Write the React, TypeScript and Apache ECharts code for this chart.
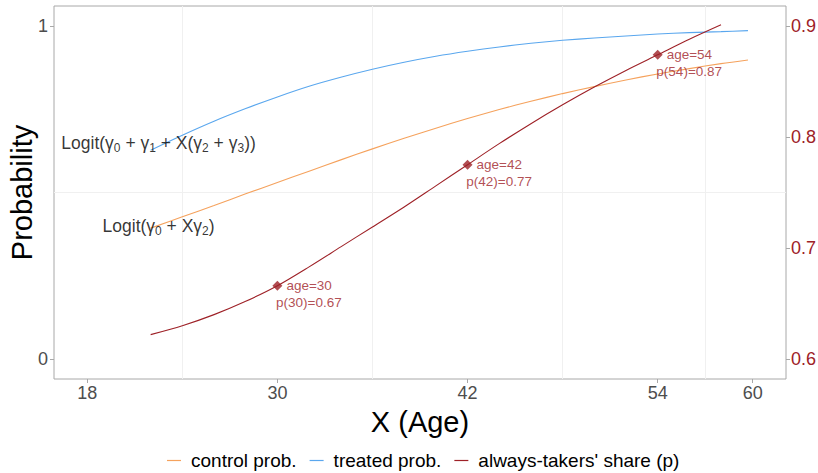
import React, { useEffect, useRef } from "react";
import * as echarts from "echarts";

const probAges = [22, 24, 26, 28, 30, 32, 34, 36, 38, 40, 42, 44, 46, 48, 50, 52, 54, 56, 58, 59.7];
const controlProb = [0.393, 0.427, 0.461, 0.496, 0.53, 0.564, 0.598, 0.631, 0.663, 0.693, 0.722, 0.749, 0.774, 0.797, 0.818, 0.838, 0.856, 0.872, 0.887, 0.898];
const treatedProb = [0.627, 0.672, 0.714, 0.752, 0.787, 0.819, 0.846, 0.87, 0.891, 0.909, 0.924, 0.937, 0.948, 0.957, 0.964, 0.97, 0.976, 0.98, 0.983, 0.986];

const shareAges = [22, 24, 26, 28, 30, 32, 34, 36, 38, 40, 42, 44, 46, 48, 50, 52, 54, 56, 58];
const alwaysTakerShare = [0.622, 0.63, 0.64, 0.652, 0.666, 0.683, 0.701, 0.719, 0.737, 0.756, 0.775, 0.794, 0.812, 0.829, 0.845, 0.86, 0.874, 0.888, 0.901];

const markerAges = [30, 42, 54];
const markerShare = [0.666, 0.775, 0.874];
const markerShareLabels = ["0.67", "0.77", "0.87"];

const xTicks = [18, 30, 42, 54, 60];
const leftTicks = [0, 1];
const rightTicks = [0.6, 0.7, 0.8, 0.9];
const minorGridX = [24, 36, 48, 57];
const minorGridY = [0.5];

const logitLabelAge = 22.5;
const treatedLabelY = 0.649;
const controlLabelY = 0.4;

const FONT = "'Liberation Sans', Arial, Helvetica, sans-serif";
const ORANGE = "#F5A25D";
const BLUE = "#5AA7EE";
const RED = "#9E2127";
const BORDER = "#A8A8A8";

export default function App() {
  const ref = useRef<HTMLDivElement>(null);
  useEffect(() => {
    if (!ref.current) return;
    const chart = echarts.init(ref.current, null, { renderer: "svg" });
    const richLogit = {
      n: { fontSize: 17.5, color: "#000", fontFamily: FONT, lineHeight: 22 },
      g: { fontSize: 17.5, color: "#000", fontFamily: FONT, lineHeight: 22 },
      s: { fontSize: 12, color: "#000", fontFamily: FONT, lineHeight: 14, verticalAlign: "bottom" },
    };
    chart.setOption({
      animation: false,
      textStyle: { fontFamily: FONT },
      grid: {
        left: 54,
        top: 6,
        width: 732,
        height: 373,
        containLabel: false,
        outerBoundsMode: "none",
        show: true,
        borderColor: BORDER,
        borderWidth: 1,
        backgroundColor: "#fff",
      },
      legend: {
        data: ["control prob.", "treated prob.", "always-takers' share (p)"],
        left: 162,
        top: 446,
        icon: "rect",
        itemWidth: 14,
        itemHeight: 1.2,
        itemGap: 13,
        textStyle: { fontSize: 19, color: "#000", fontFamily: FONT, padding: [0, 0, 0, 5] },
      },
      xAxis: {
        type: "value",
        min: 15.9,
        max: 62.1,
        name: "X (Age)",
        nameLocation: "middle",
        nameGap: 28,
        nameMoveOverlap: false,
        nameTextStyle: { fontSize: 29, color: "#000", fontFamily: FONT },
        axisLine: { show: false, onZero: false },
        splitLine: { show: false },
        axisTick: { show: true, customValues: xTicks, length: 4, lineStyle: { color: BORDER } },
        axisLabel: { customValues: xTicks, fontSize: 18, color: "#4D4D4D", margin: 5, fontFamily: FONT },
      },
      yAxis: [
        {
          type: "value",
          min: -0.06,
          max: 1.06,
          name: "Probability",
          nameLocation: "middle",
          nameGap: 18,
          nameMoveOverlap: false,
          nameTextStyle: { fontSize: 29, color: "#000", fontFamily: FONT },
          axisLine: { show: false, onZero: false },
          splitLine: { show: false },
          axisTick: { show: true, customValues: leftTicks, length: 4, lineStyle: { color: BORDER } },
          axisLabel: { customValues: leftTicks, fontSize: 18, color: "#4D4D4D", margin: 6, fontFamily: FONT },
        },
        {
          type: "value",
          position: "right",
          min: 0.582,
          max: 0.918,
          axisLine: { show: false, onZero: false },
          splitLine: { show: false },
          axisTick: { show: true, customValues: rightTicks, length: 4, lineStyle: { color: BORDER } },
          axisLabel: {
            customValues: rightTicks,
            fontSize: 18,
            color: RED,
            margin: 5,
            fontFamily: FONT,
            formatter: (v: number) => v.toFixed(1),
          },
        },
      ],
      series: [
        {
          name: "gridlines",
          type: "line",
          data: [],
          z: 0,
          silent: true,
          markLine: {
            silent: true,
            z: 0,
            symbol: "none",
            label: { show: false },
            lineStyle: { color: "#F0F0F0", width: 1, type: "solid" },
            data: [
              ...minorGridX.map((x) => ({ xAxis: x })),
              ...minorGridY.map((y) => ({ yAxis: y })),
            ],
          },
        },
        {
          name: "control prob.",
          type: "line",
          data: probAges.map((a, i) => [a, controlProb[i]]),
          showSymbol: false,
          smooth: 0.3,
          lineStyle: { color: ORANGE, width: 1.1 },
          itemStyle: { color: ORANGE },
          z: 3,
        },
        {
          name: "treated prob.",
          type: "line",
          data: probAges.map((a, i) => [a, treatedProb[i]]),
          showSymbol: false,
          smooth: 0.3,
          lineStyle: { color: BLUE, width: 1.1 },
          itemStyle: { color: BLUE },
          z: 3,
        },
        {
          name: "always-takers' share (p)",
          type: "line",
          yAxisIndex: 1,
          data: shareAges.map((a, i) => [a, alwaysTakerShare[i]]),
          showSymbol: false,
          smooth: 0.3,
          lineStyle: { color: RED, width: 1.1 },
          itemStyle: { color: RED },
          z: 3,
        },
        {
          name: "markers",
          type: "scatter",
          yAxisIndex: 1,
          symbol: "diamond",
          symbolSize: 10,
          itemStyle: { color: RED },
          data: markerAges.map((a, i) => [a, markerShare[i]]),
          label: {
            show: true,
            position: "right",
            distance: 4,
            fontSize: 13.5,
            color: RED,
            fontFamily: FONT,
            formatter: (p: any) => `age=${markerAges[p.dataIndex]}`,
          },
          z: 4,
        },
        {
          name: "markerText",
          type: "scatter",
          yAxisIndex: 1,
          symbol: "circle",
          symbolSize: 10,
          itemStyle: { color: "rgba(0,0,0,0)" },
          data: markerAges.map((a, i) => [a, markerShare[i]]),
          label: {
            show: true,
            position: [3.7, 15],
            fontSize: 13.5,
            color: RED,
            fontFamily: FONT,
            formatter: (p: any) => `p(${markerAges[p.dataIndex]})=${markerShareLabels[p.dataIndex]}`,
          },
          z: 4,
        },
        {
          name: "logitLabels",
          type: "scatter",
          symbolSize: 0,
          itemStyle: { color: "rgba(0,0,0,0)" },
          data: [
            { value: [logitLabelAge, treatedLabelY] },
            { value: [logitLabelAge, controlLabelY] },
          ],
          label: {
            show: true,
            position: "inside",
            rich: richLogit,
            formatter: (p: any) =>
              p.dataIndex === 0
                ? "{n|Logit(}{g|γ}{s|0}{n| + }{g|γ}{s|1}{n| + X(}{g|γ}{s|2}{n| + }{g|γ}{s|3}{n|))}"
                : "{n|Logit(}{g|γ}{s|0}{n| + X}{g|γ}{s|2}{n|)}",
          },
          z: 5,
        },
      ],
    });
    return () => chart.dispose();
  }, []);
  return (
    <div
      ref={ref}
      style={{ position: "fixed", left: 0, top: 0, width: 818, height: 473, background: "#fff" }}
    />
  );
}
